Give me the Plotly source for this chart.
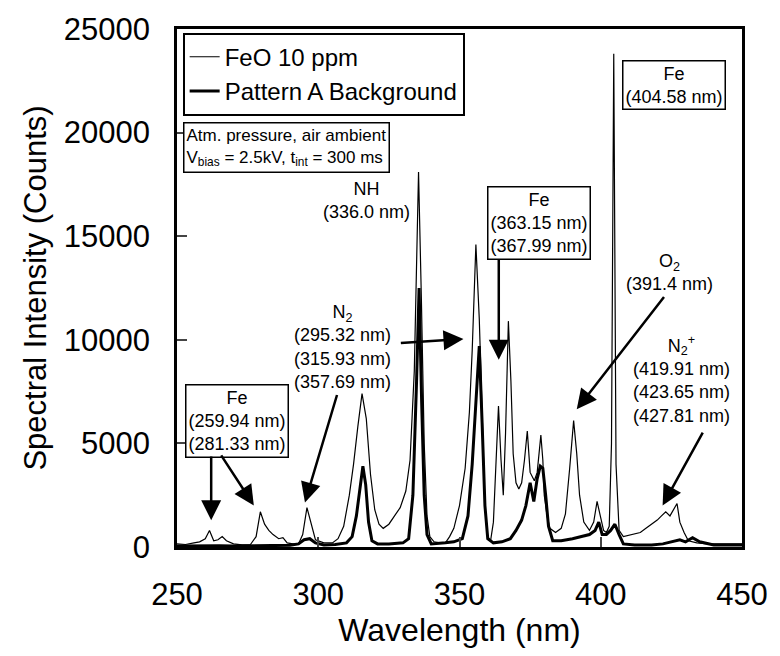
import plotly.graph_objects as go

# ---- data ----
feo_wl = [250, 253, 256, 258, 260, 261.5, 263, 264.5, 266, 267.5,
          270, 273, 276, 278, 279.5, 281, 282.5, 284, 286, 287.5,
          289, 291, 293, 294.5, 296, 297.5, 299, 302, 305, 307,
          309, 311, 312.5, 314, 315.5, 317, 318.5, 320, 321.5, 323,
          325, 327, 329, 331, 332.5, 334, 335.5, 336.5, 337.5, 338.5,
          339.5, 341, 343, 345, 346.5, 348, 350, 352, 353.5, 354.5,
          355.8, 357, 358, 359, 360, 361, 362, 363, 363.8, 364.7,
          365.5, 366.3, 367.3, 368.2, 369, 370, 371, 372, 373, 374,
          375, 376.5, 377.5, 378.8, 379.5, 380, 381, 382, 384, 386,
          387.5, 389, 390.4, 391.5, 392.5, 394, 396, 397.5, 398.7, 400,
          401, 402, 403, 403.8, 404.6, 405.4, 406.5, 408, 411, 414,
          416, 418, 420, 421.5, 423, 424.5, 426, 427, 428, 429.5,
          431, 434, 438, 442, 446, 450]
feo_counts = [150, 120, 200, 250, 400, 800, 300, 350, 500, 300,
              150, 100, 120, 500, 1700, 1100, 800, 600, 400, 450,
              200, 150, 150, 600, 1900, 1100, 350, 200, 200, 400,
              1000, 2500, 4000, 5800, 7400, 6200, 3500, 1800, 1100, 900,
              1100, 1500, 1900, 2700, 4200, 8500, 18100, 12000, 5000, 1500,
              500, 250, 200, 200, 500, 900, 2000, 3800, 6500, 9500,
              14600, 11000, 6000, 2000, 500, 300, 1200, 4000, 6800, 4200,
              2500, 5500, 10900, 8000, 4500, 3100, 2800, 3100, 4200, 5600,
              3600, 3200, 3600, 5400, 4200, 2500, 1500, 900, 700, 900,
              1600, 3800, 6100, 4500, 2500, 1200, 800, 1200, 2200, 1400,
              800, 700, 1000, 5000, 23800, 4000, 800, 500, 600, 700,
              900, 1100, 1300, 1500, 1700, 1500, 1900, 2100, 1200, 700,
              300, 200, 150, 150, 150, 150]

bg_wl = [250, 255, 260, 265, 270, 275, 280, 285, 290, 293,
         295, 297, 299, 302, 306, 310, 312, 313.5, 314.8, 315.8,
         316.8, 317.8, 319, 321, 325, 330, 332, 333.5, 334.8, 335.7,
         336.6, 337.5, 338.5, 340, 345, 348, 351, 353, 354.5, 356,
         357, 358, 359, 360, 362, 365, 368, 370, 372, 373.5,
         375, 376.3, 377.5, 378.6, 379.5, 380.5, 381.5, 383, 386, 390,
         393, 396, 398, 399.3, 400.5, 402, 403.5, 405, 406.5, 408,
         412, 418, 422, 425, 428, 430, 432.5, 435, 440, 445,
         450]
bg_counts = [50, 60, 80, 60, 50, 60, 80, 60, 80, 150,
             350, 400, 200, 100, 120, 200, 500, 1500, 3000, 3900,
             3000, 1200, 300, 150, 150, 200, 400, 2500, 8000, 12500,
             7000, 2500, 600, 150, 200, 250, 400, 1500, 4000, 7500,
             9700, 6000, 2000, 400, 200, 250, 400, 800, 1300, 2000,
             3100, 2200, 3300, 3900, 3800, 2500, 1000, 300, 300, 400,
             500, 600, 800, 1200, 600, 600, 800, 1100, 600, 150,
             100, 100, 150, 250, 350, 250, 450, 250, 100, 100,
             100]

x_ticks = [250, 300, 350, 400, 450]
x_tick_text = ["250", "300", "350", "400", "450"]
y_ticks = [0, 5000, 10000, 15000, 20000, 25000]
y_tick_text = ["0", "5000", "10000", "15000", "20000", "25000"]

# labels: (text, x, y, boxed)
labels = [
    ("NH<br>(336.0 nm)", 317.2, 16730, False),
    ("N<sub>2</sub><br>(295.32 nm)<br>(315.93 nm)<br>(357.69 nm)", 308.5, 9656, False),
    ("O<sub>2</sub><br>(391.4 nm)", 424.2, 13240, False),
    ("N<sub>2</sub><sup>+</sup><br>(419.91 nm)<br>(423.65 nm)<br>(427.81 nm)", 428.7, 8080, False),
    ("Fe<br>(259.94 nm)<br>(281.33 nm)", 271.1, 6070, True),
    ("Fe<br>(363.15 nm)<br>(367.99 nm)", 378.05, 15650, True),
    ("Fe<br>(404.58 nm)", 425.96, 22300, True),
]
# arrows: (tail_x, tail_y, tip_x, tip_y)
arrows = [
    (262.1, 4446, 262.1, 1290),
    (265.3, 4493, 277.2, 2008),
    (306.8, 7409, 295.3, 2151),
    (328.7, 9847, 351.4, 10038),
    (363.9, 13958, 363.9, 9035),
    (422.8, 12141, 391.5, 6644),
    (436.4, 5593, 421.9, 2008),
]

FONT = "Liberation Sans, Arial, sans-serif"

fig = go.Figure()
fig.add_trace(go.Scatter(x=feo_wl, y=feo_counts, mode="lines", name="FeO 10 ppm",
                         line=dict(color="black", width=1.2)))
fig.add_trace(go.Scatter(x=bg_wl, y=bg_counts, mode="lines", name="Pattern A Background",
                         line=dict(color="black", width=3)))

anns = []
for text, x, y, boxed in labels:
    a = dict(text=text, x=x, y=y, xref="x", yref="y", showarrow=False,
             font=dict(family=FONT, size=18, color="black"), align="center")
    if boxed:
        a.update(bordercolor="black", borderwidth=1.5, borderpad=2, bgcolor="white")
    anns.append(a)
for tx, ty, hx, hy in arrows:
    anns.append(dict(text="", x=hx, y=hy, ax=tx, ay=ty, xref="x", yref="y",
                     axref="x", ayref="y", showarrow=True, arrowhead=2,
                     arrowsize=1.6, arrowwidth=2.5, arrowcolor="black", standoff=0))
anns.append(dict(text="Atm. pressure, air ambient<br>V<sub>bias</sub> = 2.5kV, t<sub>int</sub> = 300 ms",
                 x=0.0105, y=0.820, xref="paper", yref="paper", xanchor="left", yanchor="top",
                 showarrow=False, align="left", bordercolor="black", borderwidth=1.5,
                 borderpad=2, bgcolor="white",
                 font=dict(family=FONT, size=17, color="black")))

fig.update_layout(
    width=780, height=656,
    margin=dict(l=177, r=29, t=24, b=109),
    paper_bgcolor="white", plot_bgcolor="white",
    font=dict(family=FONT, color="black"),
    showlegend=True,
    legend=dict(x=0.01, y=0.993, xanchor="left", yanchor="top",
                bordercolor="black", borderwidth=2, bgcolor="white",
                font=dict(family=FONT, size=24, color="black"),
                tracegroupgap=0),
    annotations=anns,
)
fig.update_xaxes(range=[250, 450], tickvals=x_ticks, ticktext=x_tick_text,
                 ticks="inside", ticklen=10, tickwidth=2,
                 showline=True, linewidth=2.5, linecolor="black", mirror=True,
                 showgrid=False, zeroline=False, ticklabelstandoff=18,
                 tickfont=dict(family=FONT, size=31, color="black"),
                 title=dict(text="Wavelength (nm)", font=dict(family=FONT, size=32), standoff=6))
fig.update_yaxes(range=[0, 25000], tickvals=y_ticks, ticktext=y_tick_text,
                 ticks="inside", ticklen=10, tickwidth=2,
                 showline=True, linewidth=2.5, linecolor="black", mirror=True,
                 showgrid=False, zeroline=False, ticklabelstandoff=18,
                 tickfont=dict(family=FONT, size=31, color="black"),
                 title=dict(text="Spectral Intensity (Counts)", font=dict(family=FONT, size=31), standoff=8))

fig.write_html("out.html")
